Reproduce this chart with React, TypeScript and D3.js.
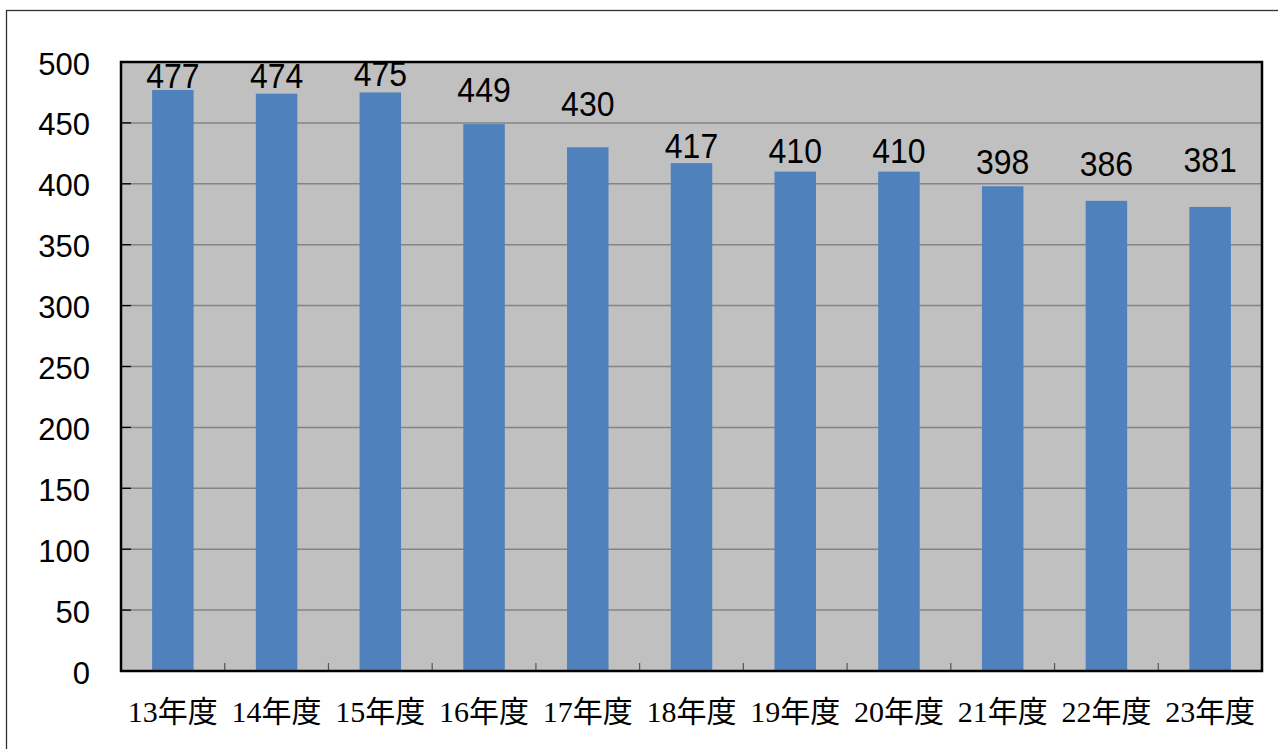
import React from "react";
import * as d3 from "d3";

const categories = ["13年度", "14年度", "15年度", "16年度", "17年度", "18年度", "19年度", "20年度", "21年度", "22年度", "23年度"];
const values = [477, 474, 475, 449, 430, 417, 410, 410, 398, 386, 381];
const yTicks = [0, 50, 100, 150, 200, 250, 300, 350, 400, 450, 500];

// label baseline offset above bar top (px), as positioned in the source chart
const labelGap = [2, 6, 6, 22, 31, 5, 9, 9, 12, 25, 35];

const W = 1278;
const H = 749;
const plot = { left: 121, right: 1262, top: 62, bottom: 671 };

export default function App() {
  const x = d3
    .scaleBand<string>()
    .domain(categories)
    .range([plot.left, plot.right])
    .paddingInner(0.6)
    .paddingOuter(0.3);
  const y = d3.scaleLinear().domain([0, 500]).range([plot.bottom, plot.top]);
  const step = x.step();

  return (
    <svg
      width={W}
      height={H}
      style={{ position: "absolute", left: 0, top: 0, background: "#fff" }}
    >
      <rect x={6.5} y={10.5} width={1400} height={900} fill="#fff" stroke="#333" strokeWidth={1.3} />
      <rect x={plot.left} y={plot.top} width={plot.right - plot.left} height={plot.bottom - plot.top} fill="#C0C0C0" />
      {yTicks
        .filter((t) => t > 0 && t < 500)
        .map((t) => (
          <line key={t} x1={plot.left} x2={plot.right} y1={y(t)} y2={y(t)} stroke="#848484" strokeWidth={1.5} />
        ))}
      {yTicks.map((t) => (
        <line key={"yt" + t} x1={plot.left} x2={plot.left + 10} y1={y(t)} y2={y(t)} stroke="#000" strokeWidth={1.3} />
      ))}
      {categories.map((c, i) =>
        i > 0 ? (
          <line
            key={"xt" + c}
            x1={plot.left + i * step}
            x2={plot.left + i * step}
            y1={plot.bottom}
            y2={plot.bottom - 8}
            stroke="#555"
            strokeWidth={1.2}
          />
        ) : null
      )}
      {categories.map((c, i) => (
        <rect
          key={"b" + c}
          x={x(c)}
          y={y(values[i])}
          width={x.bandwidth()}
          height={plot.bottom - y(values[i])}
          fill="#4F81BD"
        />
      ))}
      <rect
        x={plot.left}
        y={plot.top}
        width={plot.right - plot.left}
        height={plot.bottom - plot.top}
        fill="none"
        stroke="#000"
        strokeWidth={2.5}
      />
      {yTicks.map((t) => (
        <text
          key={"yl" + t}
          x={90}
          y={y(t) + 12.5}
          textAnchor="end"
          fontFamily="'Liberation Sans', Arial, sans-serif"
          fontSize={31}
          fill="#000"
        >
          {t}
        </text>
      ))}
      {categories.map((c, i) => {
        const cx = (x(c) as number) + x.bandwidth() / 2;
        const by = y(values[i]) - labelGap[i];
        return (
          <text
            key={"dl" + c}
            transform={`translate(${cx},${by}) scale(1,1.1)`}
            textAnchor="middle"
            fontFamily="'Liberation Sans', Arial, sans-serif"
            fontSize={32}
            fill="#000"
          >
            {values[i]}
          </text>
        );
      })}
      {categories.map((c) => (
        <text
          key={"xl" + c}
          x={(x(c) as number) + x.bandwidth() / 2}
          y={722}
          textAnchor="middle"
          fontFamily="'Liberation Serif', 'Noto Sans CJK JP', serif"
          fontSize={30}
          fill="#000"
        >
          {c}
        </text>
      ))}
    </svg>
  );
}
